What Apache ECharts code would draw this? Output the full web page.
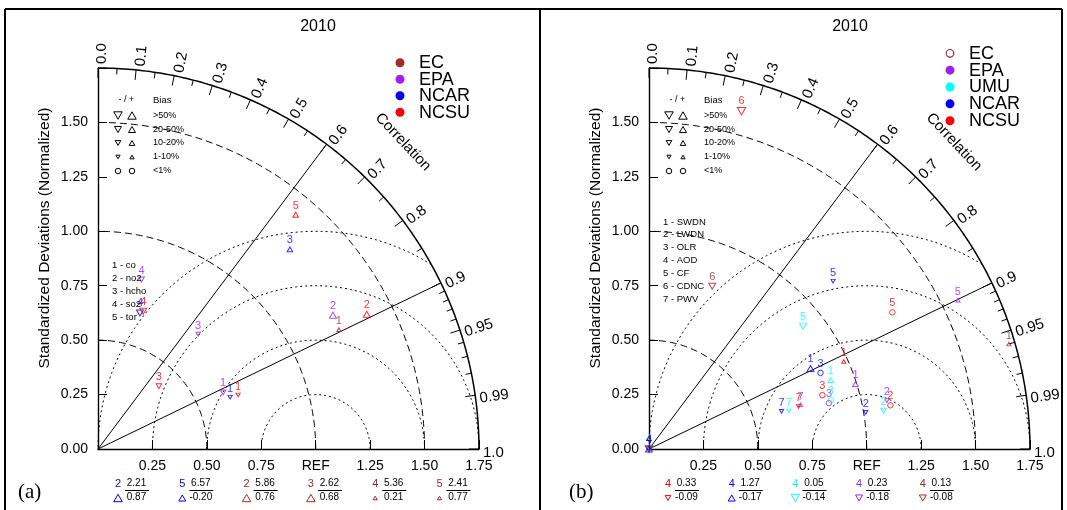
<!DOCTYPE html>
<html><head><meta charset="utf-8">
<script src="https://cdn.jsdelivr.net/npm/echarts@6/dist/echarts.min.js"></script>
<style>html,body{margin:0;padding:0;background:#fff}#c{width:1067px;height:510px}</style>
</head><body><div id="c"></div>
<script>
// ---------------- data ----------------
const modelColors = {EC:'#a52a2a', EPA:'#a020f0', UMU:'#00ffff', NCAR:'#0000ff', NCSU:'#ff0000'};
const modelsA = ['EC','EPA','NCAR','NCSU'];
const modelsB = ['EC','EPA','UMU','NCAR','NCSU'];
const varsA = ['co','no2','hcho','so2','tor'];
const varsB = ['SWDN','LWDN','OLR','AOD','CF','CDNC','PWV'];
const panelTitles = ['2010','2010'];
const panelTags = ['(a)','(b)'];
const xTickLabels = ['0.25','0.50','0.75','REF','1.25','1.50','1.75'];
const yTickLabels = ['0.00','0.25','0.50','0.75','1.00','1.25','1.50'];
const corrLabelValues = [0,0.1,0.2,0.3,0.4,0.5,0.6,0.7,0.8,0.9,0.95,0.99,1.0];
const corrLabelTexts  = ['0.0','0.1','0.2','0.3','0.4','0.5','0.6','0.7','0.8','0.9','0.95','0.99','1.0'];
const corrRefLines = [0.6, 0.9];
const stdArcs = [0.5, 1.0, 1.5];
const rmsArcs = [0.25, 0.5, 0.75, 1.0];
const biasLevels = ['>50%','20-50%','10-20%','1-10%','<1%'];
const biasLevelClass = [4,3,2,1,0];
// [variable no., normalized std, correlation, bias class (sign: -/+, 0: <1%, 1:1-10%, 2:10-20%, 3:20-50%, 4:>50%)]
const a_EC   = [[1,1.235,0.896,1]];
const a_EPA  = [[1,0.631,0.911,-2],[2,1.242,0.869,3],[3,0.700,0.657,-1],[4,0.804,0.249,-2]];
const a_NCAR = [[1,0.652,0.931,-1],[3,1.272,0.693,2],[4,0.654,0.295,-3]];
const a_NCSU = [[1,0.690,0.933,-1],[2,1.381,0.894,3],[3,0.402,0.696,-2],[4,0.666,0.312,-3],[5,1.408,0.645,2]];
// off-scale: [model, variable no., std, corr, bias class]
const a_out = [['NCAR',2,2.21,0.87,4],['NCAR',5,6.57,-0.20,3],['EC',2,5.86,0.76,4],['EC',3,2.62,0.68,4],['EC',4,5.36,0.21,1],['EC',5,2.41,0.77,1]];
const b_EC   = [[1,1.722,0.960,1],[6,0.802,0.362,-3]];
const b_EPA  = [[1,0.994,0.954,2],[2,1.115,0.980,-1],[3,0.853,0.969,0],[5,1.575,0.901,1],[7,0.725,0.960,1]];
const b_UMU  = [[1,0.893,0.935,2],[2,1.092,0.987,-2],[3,0.865,0.966,0],[5,0.905,0.782,-3],[7,0.667,0.965,-1]];
const b_NCAR = [[1,0.829,0.895,3],[2,1.010,0.986,-1],[3,0.862,0.914,0],[5,1.144,0.739,-1],[7,0.633,0.962,-1]];
const b_NCSU = [[1,0.981,0.912,1],[2,1.127,0.984,0],[3,0.834,0.955,0],[5,1.282,0.872,0],[6,1.609,0.264,-4],[7,0.714,0.962,-1]];
const b_out = [['NCSU',4,0.33,-0.09,-2],['NCAR',4,1.27,-0.17,3],['UMU',4,0.05,-0.14,-4],['EPA',4,0.23,-0.18,-3],['EC',4,0.13,-0.08,-3]];

// ---------------- layout ----------------
const FF = '"Liberation Sans", Arial, Helvetica, sans-serif';
const SERIF = '"Liberation Serif", "Times New Roman", serif';
const R = 1.75, OY = 449, S = 217.7, SIDE = R * S;
const symSize = {0:5.5, 1:4.2, 2:5.6, 3:7, 4:8.5};
const panels = [
  {ox:98, models:modelsA, sets:{EC:a_EC, EPA:a_EPA, NCAR:a_NCAR, NCSU:a_NCSU}, out:a_out, pinOut:false,
   vars:varsA, varTop:265, varStep:13, legendTop:62.7, legendStep:16.5, legendDx:302, outX0:118, outDX:64.3, titleX:318, ecHollow:false},
  {ox:649, models:modelsB, sets:{EC:b_EC, EPA:b_EPA, UMU:b_UMU, NCAR:b_NCAR, NCSU:b_NCSU}, out:b_out, pinOut:true,
   vars:varsB, varTop:222, varStep:12.85, legendTop:53.3, legendStep:16.85, legendDx:301, outX0:668, outDX:63.7, titleX:850, ecHollow:true}
];

function xy(std, corr){ return [std*corr, std*Math.sqrt(Math.max(0, 1-corr*corr))]; }
function arc(cx, r, a0, a1){ const p=[]; const n=160; for(let i=0;i<=n;i++){const a=a0+(a1-a0)*i/n; p.push([cx+r*Math.cos(a), r*Math.sin(a)]);} return p; }

const corrTicks = [];
for (let i=0;i<=18;i++) corrTicks.push(+(i*0.05).toFixed(2));
for (let i=1;i<=9;i++) corrTicks.push(+(0.9+i*0.01).toFixed(2));
corrTicks.push(1.0);
const tickData = Array.from(new Set(corrTicks)).map(c => [c, corrLabelValues.indexOf(c)]);

const grids=[], xAxes=[], yAxes=[], series=[], graphics=[];

function txt(x, y, text, o){
  o = o || {};
  const al = o.align||'center', va = o.va||'middle';
  return {type:'text', x:x, y:y, rotation:o.rot||0, silent:true, z:o.z||10,
    style:{text:text, fill:o.color||'#000', fontSize:o.size||12, fontFamily:o.family||FF,
      align:al, verticalAlign:va, textAlign:al, textVerticalAlign:va}};
}
function markShape(cx, cy, cls, color){
  const s = symSize[Math.abs(cls)];
  if (cls === 0) return {type:'circle', shape:{cx:cx, cy:cy, r:s/2}, style:{fill:'none', stroke:color, lineWidth:1}, silent:true, z:10};
  const h = s*0.87;
  const pts = cls < 0 ? [[cx-s/2,cy-h/2],[cx+s/2,cy-h/2],[cx,cy+h/2]] : [[cx,cy-h/2],[cx+s/2,cy+h/2],[cx-s/2,cy+h/2]];
  return {type:'polygon', shape:{points:pts}, style:{fill:'none', stroke:color, lineWidth:1}, silent:true, z:10};
}
function pointItem(v, std, corr, cls, pin){
  const s = symSize[Math.abs(cls)];
  return {name:String(v), value: pin ? [0,0] : xy(std, corr),
    symbol: cls===0 ? 'circle' : 'triangle',
    symbolSize: cls===0 ? s : [s, s*0.87],
    symbolRotate: cls<0 ? 180 : 0};
}

panels.forEach((P, pi) => {
  grids.push({left:P.ox, top:OY-SIDE, width:SIDE, height:SIDE, containLabel:false, outerBoundsMode:'none'});
  xAxes.push({gridIndex:pi, type:'value', min:0, max:R, interval:0.25,
    axisLine:{show:true, onZero:false, lineStyle:{color:'#000', width:1.4}},
    axisTick:{show:true, inside:true, length:9, lineStyle:{color:'#000', width:1}},
    splitLine:{show:false},
    axisLabel:{show:true, margin:10, color:'#000', fontSize:14, fontFamily:FF, showMinLabel:true, showMaxLabel:true,
      formatter: v => { const k=Math.round(v/0.25); return k===0 ? '' : (xTickLabels[k-1]||''); }}});
  yAxes.push({gridIndex:pi, type:'value', min:0, max:R, interval:0.25,
    axisLine:{show:true, onZero:false, lineStyle:{color:'#000', width:1.4}},
    axisTick:{show:true, inside:true, length:9, lineStyle:{color:'#000', width:1}},
    splitLine:{show:false},
    axisLabel:{show:true, margin:10, color:'#000', fontSize:14, fontFamily:FF, showMinLabel:true, showMaxLabel:true,
      formatter: v => { const k=Math.round(v/0.25); return yTickLabels[k]||''; }}});

  const base = {xAxisIndex:pi, yAxisIndex:pi, silent:true, animation:false};
  const lineS = (data, style) => Object.assign({type:'line', data:data, showSymbol:false, symbol:'none', clip:false, z:1,
    lineStyle:style, emphasis:{disabled:true}}, base);
  stdArcs.forEach(r => series.push(lineS(arc(0, r, 0, Math.PI/2), {color:'#000', width:1, type:[7,4]})));
  rmsArcs.forEach(r => {
    const c = (R*R - 1 - r*r)/(2*r);
    const a0 = c >= 1 ? 0 : Math.acos(c);
    series.push(lineS(arc(1, r, a0, Math.PI), {color:'#000', width:1, type:[2,3]}));
  });
  corrRefLines.forEach(c => series.push(lineS([[0,0], xy(R, c)], {color:'#000', width:1})));
  series.push(lineS(arc(0, R, 0, Math.PI/2), {color:'#000', width:1.5}));
  series.push(Object.assign({type:'custom', data:tickData, clip:false, z:2,
    renderItem:(params, api) => {
      const c = api.value(0), li = api.value(1);
      const th = Math.acos(c);
      const o = api.coord([0,0]), p = api.coord([R*Math.cos(th), R*Math.sin(th)]);
      const dx=p[0]-o[0], dy=p[1]-o[1], L=Math.hypot(dx,dy), ux=dx/L, uy=dy/L;
      const len = li >= 0 ? 10 : 6;
      const ch = [{type:'line', shape:{x1:p[0], y1:p[1], x2:p[0]-ux*len, y2:p[1]-uy*len}, style:{stroke:'#000', lineWidth:1}}];
      if (li >= 0) {
        const ax = p[0] + ux*4 + Math.sin(th)*4, ay = p[1] + uy*4 + Math.cos(th)*4;
        ch.push({type:'text', x:ax, y:ay, rotation:th,
          style:{text:corrLabelTexts[li], fill:'#000', fontSize:15, fontFamily:FF, align:'left', verticalAlign:'middle', textAlign:'left', textVerticalAlign:'middle'}});
      }
      return {type:'group', children:ch};
    }}, base));

  P.models.forEach(m => {
    const col = modelColors[m];
    const data = P.sets[m].map(d => pointItem(d[0], d[1], d[2], d[3], false));
    series.push(Object.assign({type:'scatter', name:m, data:data, z:5,
      itemStyle:{color:'rgba(0,0,0,0)', borderColor:col, borderWidth:1},
      label:{show:true, position:'top', distance:0.5, color:col, fontSize:11, fontFamily:FF, formatter:'{b}'},
      emphasis:{disabled:true}}, base));
  });
  if (P.pinOut) {
    P.out.forEach(d => {
      const col = modelColors[d[0]];
      series.push(Object.assign({type:'scatter', name:d[0], data:[pointItem(d[1], d[2], d[3], d[4], true)], z: d[0]==='NCAR'?6:5,
        itemStyle:{color:'rgba(0,0,0,0)', borderColor:col, borderWidth:1},
        label:{show:true, position:'top', distance:0.5, color:col, fontSize:11, fontFamily:FF, formatter:'{b}'},
        emphasis:{disabled:true}}, base));
    });
  }

  // model legend
  P.models.forEach((m, i) => {
    const y = P.legendTop + i*P.legendStep, col = modelColors[m];
    const hollow = (m==='EC' && P.ecHollow);
    graphics.push({type:'circle', shape:{cx:P.ox+P.legendDx, cy:y, r:hollow?3.8:4.5}, silent:true, z:10,
      style: hollow ? {fill:'#fff', stroke:col, lineWidth:1.2} : {fill:col, stroke:null}});
    graphics.push(txt(P.ox+P.legendDx+19, y+0.5, m, {size:18, align:'left'}));
  });

  graphics.push(txt(P.titleX, 27, panelTitles[pi], {size:16}));
  graphics.push(txt(P.ox-53, 238, 'Standardized Deviations (Normalized)', {size:15.5, rot:Math.PI/2}));
  graphics.push(txt(P.ox+305, 142, 'Correlation', {size:15, rot:-Math.PI/4-0.03}));
  graphics.push(txt(P.ox-80, 492, panelTags[pi], {size:21, family:SERIF, align:'left'}));
  graphics.push(txt(P.ox+28.5, 100, '- / +', {size:9}));
  graphics.push(txt(P.ox+55, 100, 'Bias', {size:9.5, align:'left'}));
  const rowY = [115.5, 129.5, 143, 157, 171];
  biasLevels.forEach((t, i) => {
    const cls = biasLevelClass[i];
    graphics.push(markShape(P.ox+20, rowY[i], cls===0 ? 0 : -cls, '#000'));
    graphics.push(markShape(P.ox+34, rowY[i], cls, '#000'));
    graphics.push(txt(P.ox+55, rowY[i], t, {size:9, align:'left'}));
  });
  P.vars.forEach((v, i) => graphics.push(txt(P.ox+14, P.varTop + i*P.varStep, (i+1)+' - '+v, {size:9.5, align:'left'})));
  P.out.forEach((d, i) => {
    const x0 = P.outX0 + i*P.outDX, col = modelColors[d[0]];
    graphics.push(txt(x0, 484, String(d[1]), {size:11, color:col}));
    graphics.push(markShape(x0, 498, d[4], col));
    graphics.push(txt(x0+18.5, 483.5, d[2].toFixed(2), {size:10}));
    graphics.push({type:'line', shape:{x1:x0+7, y1:490.5, x2:x0+31, y2:490.5}, style:{stroke:'#000', lineWidth:1}, silent:true});
    graphics.push(txt(x0+18.5, 497.5, d[3].toFixed(2), {size:10}));
  });
});

[[5,9,1062,9],[5,9,5,510],[540,9,540,510],[1062,9,1062,510]].forEach(l =>
  graphics.push({type:'line', shape:{x1:l[0], y1:l[1], x2:l[2], y2:l[3]}, style:{stroke:'#000', lineWidth:2}, silent:true}));

const chart = echarts.init(document.getElementById('c'), null, {renderer:'canvas'});
chart.setOption({
  animation:false, backgroundColor:'#fff',
  grid:grids, xAxis:xAxes, yAxis:yAxes, series:series,
  graphic:{elements:graphics}, tooltip:{show:false}
});
</script></body></html>
